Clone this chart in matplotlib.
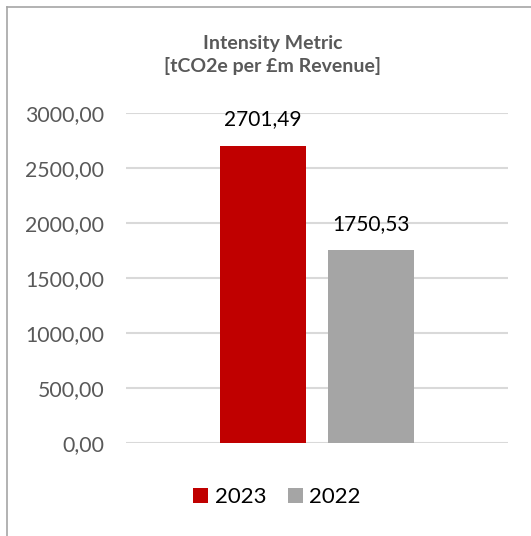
import matplotlib.pyplot as plt
from matplotlib.lines import Line2D
from matplotlib.patches import Patch

plt.rcParams['font.family'] = ['Lato', 'DejaVu Sans']

series = ["2023", "2022"]
values = [2701.49, 1750.53]
colors = ["#C00000", "#A5A5A5"]
yticks = [0, 500, 1000, 1500, 2000, 2500, 3000]

fig = plt.figure(figsize=(5.31, 5.36), dpi=100)
ax = fig.add_axes([126 / 531, 93 / 536, 382 / 531, 330 / 536])

width = 0.45
offsets = [-0.285, 0.285]
for name, val, col, off in zip(series, values, colors, offsets):
    ax.bar(off, val, width=width, color=col, zorder=3, label=name)
    ax.text(off, val + 150, f"{val:.2f}".replace(".", ","), ha="center", va="bottom",
            fontsize=15, color="#000000")

ax.set_xlim(-1, 1)
ax.set_ylim(0, 3000)
ax.set_yticks(yticks)
ax.set_yticklabels([f"{t:.2f}".replace(".", ",") for t in yticks])
ax.set_xticks([])
ax.tick_params(axis="y", length=0, pad=15.5, labelsize=15.3, labelcolor="#595959")
ax.grid(axis="y", color="#D9D9D9", linewidth=1.5, zorder=0)
for s in ax.spines.values():
    s.set_visible(False)

fig.text(273 / 531, 1 - 55 / 536, "Intensity Metric\n[tCO2e per £m Revenue]",
         ha="center", va="center", fontsize=14, fontweight="bold",
         color="#595959", linespacing=1.3)

handles = [Patch(facecolor=c) for c in colors]
fig.legend(handles, series, loc="center", bbox_to_anchor=(277 / 531, 1 - 497 / 536),
           ncol=2, frameon=False, fontsize=16, handlelength=0.68, handleheight=0.68,
           handletextpad=0.3, columnspacing=0.95, borderpad=0, borderaxespad=0)

# chart frame (top and left edges only)
fig.add_artist(Line2D([7 / 531, 7 / 531], [0, 1 - 7 / 536], transform=fig.transFigure,
                      color="#A6A6A6", linewidth=1.2))
fig.add_artist(Line2D([7 / 531, 1], [1 - 7 / 536, 1 - 7 / 536], transform=fig.transFigure,
                      color="#A6A6A6", linewidth=1.2))

fig.savefig("out.png", dpi=100)
